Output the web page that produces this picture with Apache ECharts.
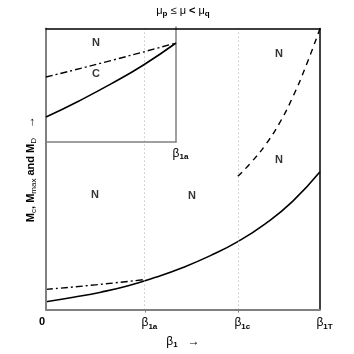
<!DOCTYPE html>
<html>
<head>
<meta charset="utf-8">
<script src="https://cdn.jsdelivr.net/npm/echarts@6/dist/echarts.min.js"></script>
<style>
  html, body { margin: 0; padding: 0; background: #fff; }
  #chart { width: 354px; height: 354px; }
</style>
</head>
<body>
<div id="chart"></div>
<script>
// x is measured as a fraction of beta_1T, y as a fraction of the plot height
const beta1a = 0.361;
const beta1c = 0.70;
const beta1T = 1.0;
const xTickValues = [0, beta1a, beta1c, beta1T];
const xTickNames = ['0', '1a', '1c', '1T'];

// main panel curves
const solidMain = [[0, 0.028], [0.1, 0.044], [0.2, 0.062], [0.3, 0.085], [0.4, 0.115], [0.5, 0.15], [0.6, 0.192], [0.7, 0.242], [0.8, 0.305], [0.9, 0.385], [1.0, 0.49]];
const dashDotMain = [[0, 0.072], [0.18, 0.088], [0.361, 0.107]];
const dashedMain = [[0.70, 0.474], [0.75, 0.525], [0.80, 0.585], [0.85, 0.66], [0.90, 0.755], [0.95, 0.87], [1.0, 1.0]];
const regionLabelsMain = [[0.179, 0.408, 'N'], [0.533, 0.404, 'N'], [0.85, 0.909, 'N'], [0.85, 0.533, 'N']];

// inset (0 .. beta1a) curves
const solidInset = [[0, 0.217], [0.25, 0.355], [0.5, 0.505], [0.75, 0.67], [1.0, 0.861]];
const dashDotInset = [[0, 0.565], [0.5, 0.708], [1.0, 0.861]];
const regionLabelsInset = [[0.385, 0.861, 'N'], [0.385, 0.591, 'C']];

const FONT = 'Liberation Sans, Arial, sans-serif';
const GREY = '#808080';

const myChart = echarts.init(document.getElementById('chart'));

const subRich = {
  z: { fontFamily: FONT, fontSize: 11, fontWeight: 'bold', color: '#000' },
  b: { fontFamily: FONT, fontSize: 12, color: '#000' },
  s: { fontFamily: FONT, fontSize: 8, fontWeight: 'bold', color: '#000', padding: [7, 0, 0, 0] },
  sp: { width: 9 },
  sp0: { width: 8 },
};

const labelSeries = (data, xi, yi) => ({
  type: 'scatter',
  xAxisIndex: xi,
  yAxisIndex: yi,
  symbolSize: 0,
  z: 12,
  label: {
    show: true,
    position: 'inside',
    formatter: (p) => p.data[2],
    fontFamily: FONT,
    fontSize: 11,
    fontWeight: 'bold',
    color: '#000',
  },
  data: data,
});

myChart.setOption({
  animation: false,
  backgroundColor: '#fff',
  grid: [
    { left: 46, top: 27, width: 274, height: 287 },
    { left: 46, top: 27, width: 130, height: 115, show: true, backgroundColor: '#fff', borderWidth: 0, z: 5 },
  ],
  xAxis: [
    {
      gridIndex: 0, type: 'value', min: 0, max: 1, position: 'bottom', z: 8,
      axisLine: { onZero: false, lineStyle: { color: GREY, width: 2 } },
      axisTick: { show: true, customValues: [beta1a, beta1c], length: 3, inside: false, lineStyle: { color: GREY } },
      splitLine: { show: false },
      axisLabel: {
        customValues: xTickValues,
        margin: 6,
        formatter: (v) => {
          const i = xTickValues.indexOf(v);
          if (i === 0) return '{z|0}{sp0| }';
          return '{sp| }{b|β}{s|' + xTickNames[i] + '}';
        },
        rich: subRich,
      },
      name: '{b|β}{s|1}{b|   →}',
      nameLocation: 'middle',
      nameGap: 24,
      nameTextStyle: { rich: subRich },
    },
    {
      gridIndex: 0, type: 'value', min: 0, max: 1, position: 'top', z: 8,
      axisLine: { onZero: false, lineStyle: { color: '#000', width: 1.5 } },
      axisTick: { show: false }, axisLabel: { show: false }, splitLine: { show: false },
      name: '{m|μ}{s|p}{m| ≤ μ }{g|<}{m| μ}{s|q}',
      nameLocation: 'middle',
      nameGap: 11,
      nameTextStyle: {
        rich: {
          m: { fontFamily: FONT, fontSize: 11, color: '#000' },
          g: { fontFamily: FONT, fontSize: 11, fontWeight: 'bold', color: '#000' },
          s: { fontFamily: FONT, fontSize: 8, fontWeight: 'bold', color: '#000', padding: [6, 0, 0, 0] },
        },
      },
    },
    {
      gridIndex: 1, type: 'value', min: 0, max: 1, position: 'bottom', z: 6,
      axisLine: { onZero: false, lineStyle: { color: GREY, width: 1.5 } },
      axisTick: { show: false }, splitLine: { show: false },
      axisLabel: {
        customValues: [1],
        margin: 4,
        formatter: () => '{sp| }{b|β}{s|1a}',
        rich: subRich,
      },
    },
  ],
  yAxis: [
    {
      gridIndex: 0, type: 'value', min: 0, max: 1, position: 'left', z: 8,
      axisLine: { onZero: false, lineStyle: { color: GREY, width: 2 } },
      axisTick: { show: false }, axisLabel: { show: false }, splitLine: { show: false },
      name: '{m|M}{s|c}{m|, M}{s|max}{m| and M}{s|D}{a|   →}',
      nameLocation: 'middle',
      nameRotate: 90,
      nameGap: 8,
      nameTextStyle: {
        rich: {
          m: { fontFamily: FONT, fontSize: 11, fontWeight: 'bold', color: '#000' },
          s: { fontFamily: FONT, fontSize: 8, color: '#000', padding: [7, 0, 0, 0] },
          a: { fontFamily: FONT, fontSize: 12, color: '#000' },
        },
      },
    },
    {
      gridIndex: 0, type: 'value', min: 0, max: 1, position: 'right', z: 8,
      axisLine: { onZero: false, lineStyle: { color: '#000', width: 1.5 } },
      axisTick: { show: false }, axisLabel: { show: false }, splitLine: { show: false },
    },
    {
      gridIndex: 1, type: 'value', min: 0, max: 1, position: 'right', z: 6,
      axisLine: { onZero: false, lineStyle: { color: GREY, width: 1.5 } },
      axisTick: { show: false }, axisLabel: { show: false }, splitLine: { show: false },
    },
  ],
  series: [
    {
      type: 'line', xAxisIndex: 0, yAxisIndex: 0, z: 2,
      smooth: 0.5, symbol: 'none',
      lineStyle: { color: '#000', width: 1.6 },
      data: solidMain,
      markLine: {
        silent: true, symbol: 'none', label: { show: false },
        lineStyle: { color: '#aaa', type: [1, 3], width: 1 },
        data: [{ xAxis: beta1a }, { xAxis: beta1c }],
      },
    },
    {
      type: 'line', xAxisIndex: 0, yAxisIndex: 0, z: 2,
      smooth: 0.5, symbol: 'none',
      lineStyle: { color: '#000', width: 1.4, type: [7, 3, 2, 3] },
      data: dashDotMain,
    },
    {
      type: 'line', xAxisIndex: 0, yAxisIndex: 0, z: 2,
      smooth: 0.5, symbol: 'none',
      lineStyle: { color: '#000', width: 1.4, type: [6, 5] },
      data: dashedMain,
    },
    labelSeries(regionLabelsMain, 0, 0),
    {
      type: 'line', xAxisIndex: 2, yAxisIndex: 2, z: 10,
      smooth: 0.5, symbol: 'none',
      lineStyle: { color: '#000', width: 1.6 },
      data: solidInset,
    },
    {
      type: 'line', xAxisIndex: 2, yAxisIndex: 2, z: 10,
      smooth: 0.5, symbol: 'none',
      lineStyle: { color: '#000', width: 1.4, type: [7, 3, 2, 3] },
      data: dashDotInset,
    },
    labelSeries(regionLabelsInset, 2, 2),
  ],
});
</script>
</body>
</html>
